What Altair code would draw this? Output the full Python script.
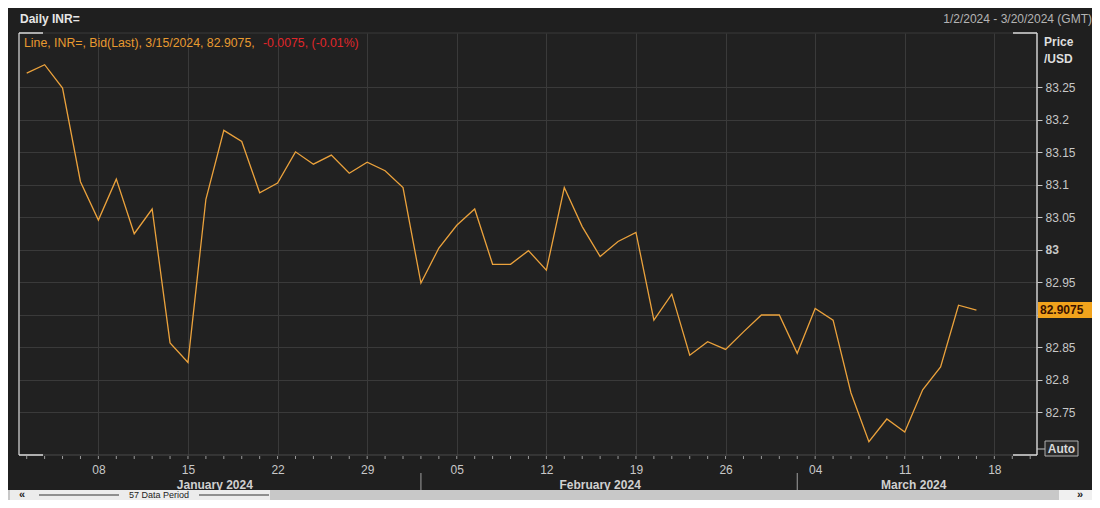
import altair as alt
import pandas as pd

# ---------------- data ----------------
dates = [
    "2024-01-02", "2024-01-03", "2024-01-04", "2024-01-05",
    "2024-01-08", "2024-01-09", "2024-01-10", "2024-01-11", "2024-01-12",
    "2024-01-15", "2024-01-16", "2024-01-17", "2024-01-18", "2024-01-19",
    "2024-01-22", "2024-01-23", "2024-01-24", "2024-01-25", "2024-01-26",
    "2024-01-29", "2024-01-30", "2024-01-31",
    "2024-02-01", "2024-02-02",
    "2024-02-05", "2024-02-06", "2024-02-07", "2024-02-08", "2024-02-09",
    "2024-02-12", "2024-02-13", "2024-02-14", "2024-02-15", "2024-02-16",
    "2024-02-19", "2024-02-20", "2024-02-21", "2024-02-22", "2024-02-23",
    "2024-02-26", "2024-02-27", "2024-02-28", "2024-02-29",
    "2024-03-01",
    "2024-03-04", "2024-03-05", "2024-03-06", "2024-03-07", "2024-03-08",
    "2024-03-11", "2024-03-12", "2024-03-13", "2024-03-14", "2024-03-15",
]
values = [
    83.272, 83.285, 83.249, 83.105,
    83.046, 83.109, 83.025, 83.063, 82.857,
    82.827, 83.078, 83.184, 83.167, 83.088,
    83.103, 83.151, 83.132, 83.146, 83.118,
    83.135, 83.122, 83.096,
    82.949, 83.003,
    83.038, 83.063, 82.978, 82.978, 82.999,
    82.969, 83.096, 83.036, 82.990, 83.013,
    83.027, 82.892, 82.932, 82.838, 82.859,
    82.847, 82.874, 82.900, 82.900,
    82.841,
    82.910, 82.892, 82.780, 82.705, 82.740,
    82.720, 82.785, 82.820, 82.915, 82.9075,
]
future_dates = ["2024-03-18", "2024-03-19", "2024-03-20"]

x_tick_idx = [4, 9, 14, 19, 24, 29, 34, 39, 44, 49, 54]
x_tick_labels = ["08", "15", "22", "29", "05", "12", "19", "26", "04", "11", "18"]
y_ticks = [82.75, 82.8, 82.85, 82.9, 82.95, 83.0, 83.05, 83.1, 83.15, 83.2, 83.25]
month_names = {1: "January 2024", 2: "February 2024", 3: "March 2024"}

header_title = "Daily INR="
header_range = "1/2/2024 - 3/20/2024 (GMT)"
legend_main = "Line, INR=, Bid(Last), 3/15/2024, 82.9075,"
legend_change = "-0.0075, (-0.01%)"
last_label = "82.9075"
period_label = "57 Data Period"

# ---------------- tables ----------------
df = pd.DataFrame({"date": dates, "value": values})
df["idx"] = range(len(df))

all_dates = pd.to_datetime(dates + future_dates)
periods = pd.DataFrame({"idx": range(len(all_dates)), "month": all_dates.month})
months = periods.groupby("month")["idx"].agg(["min", "max"]).reset_index()
months["center"] = (months["min"] + months["max"]) / 2
months["name"] = months["month"].map(month_names)
seps = months[months["min"] > 0]

last = df.tail(1).copy()
last["label"] = last_label

FONT = "Liberation Sans"
W, H = 1018, 422
XDOM = [-0.43, 56.38]
YDOM = [82.6846, 83.3338]

x_expr = "[" + ",".join("'%s'" % s for s in x_tick_labels) + "][indexof([" + \
    ",".join(str(i) for i in x_tick_idx) + "], datum.value)]"
# the last-price tag covers its neighbouring tick label
y_expr = "abs(datum.value - %s) < 0.02 ? '' : format(datum.value, '.4~g')" % last_label

xscale = alt.Scale(domain=XDOM, nice=False, zero=False)
yscale = alt.Scale(domain=YDOM, nice=False, zero=False)

line = alt.Chart(df).mark_line(color="#eba23c", strokeWidth=1.3).encode(
    x=alt.X("idx:Q", scale=xscale, title=None,
            axis=alt.Axis(values=x_tick_idx, labelExpr=x_expr, grid=True,
                          gridColor="#3a3a3a", ticks=False, domain=False,
                          labelColor="#c8c8c8", labelFontSize=12, labelFont=FONT,
                          labelPadding=9, labelFlush=False)),
    y=alt.Y("value:Q", scale=yscale, title=None,
            axis=alt.Axis(orient="right", values=y_ticks, labelExpr=y_expr,
                          grid=True, gridColor="#3a3a3a", domain=False,
                          tickColor="#c8c8c8", tickSize=5, labelPadding=3,
                          labelColor="#c8c8c8", labelFontSize=12, labelFont=FONT,
                          labelFontWeight={"expr": "datum.value == 83 ? 'bold' : 'normal'"})),
)

minor = alt.Chart(periods).mark_rule(color="#9a9a9a", strokeWidth=1).encode(
    x=alt.X("idx:Q", scale=xscale), y=alt.value(H + 1), y2=alt.value(H + 4))


def rule(x1, x2, y1, y2, color, sw=1.0):
    return alt.Chart(pd.DataFrame({"a": [0]})).mark_rule(color=color, strokeWidth=sw).encode(
        x=alt.value(x1), x2=alt.value(x2), y=alt.value(y1), y2=alt.value(y2))


def rect(x1, x2, y1, y2, fill, stroke=None):
    kw = {"fill": fill}
    if stroke:
        kw["stroke"] = stroke
        kw["strokeWidth"] = 1
    return alt.Chart(pd.DataFrame({"a": [0]})).mark_rect(**kw).encode(
        x=alt.value(x1), x2=alt.value(x2), y=alt.value(y1), y2=alt.value(y2))


def txt(s, x, y, color, size=12, weight="normal", align="left"):
    return alt.Chart(pd.DataFrame({"t": [s]})).mark_text(
        color=color, fontSize=size, fontWeight=weight, align=align,
        baseline="middle", font=FONT).encode(
        x=alt.value(x), y=alt.value(y), text="t:N")


frame = [
    rule(0, W, H, H, "#4a4a4a"),
    rule(0, W, 0, 0, "#3a3a3a"),
    rule(0, 0, 0, H, "#b8b8b8", 1.5),
    rule(W, W, 0, H, "#d0d0d0", 1.5),
    rule(0, 24, 0, 0, "#d8d8d8", 1.5),
    rule(W - 24, W, 0, 0, "#d8d8d8", 1.5),
    rule(0, 24, H, H, "#d8d8d8", 1.5),
    rule(W - 24, W, H, H, "#d8d8d8", 1.5),
]

month_text = alt.Chart(months).mark_text(
    color="#d0d0d0", fontSize=12, fontWeight="bold", font=FONT, baseline="middle").encode(
    x=alt.X("center:Q", scale=xscale), y=alt.value(452), text="name:N")
month_sep = alt.Chart(seps).mark_rule(color="#a0a0a0").encode(
    x=alt.X("min:Q", scale=xscale), y=alt.value(440), y2=alt.value(458))

price_box = alt.Chart(last).mark_rule(color="#f2a31c", strokeWidth=16, strokeCap="butt").encode(
    x=alt.value(W + 1), x2=alt.value(W + 56), y=alt.Y("value:Q", scale=yscale))
price_txt = alt.Chart(last).mark_text(
    color="#3a1200", fontSize=12, fontWeight="bold", font=FONT, align="left",
    baseline="middle").encode(
    x=alt.value(W + 3), y=alt.Y("value:Q", scale=yscale), text="label:N")

scroll = [
    rect(-11, 1073, 457, 467, "#c8c8c8"),
    rect(-9, 251, 457, 467, "#ececec"),
    rect(1040, 1073, 457, 467, "#f0f0f0"),
    rule(20, 100, 462, 462, "#333333"),
    rule(180, 250, 462, 462, "#333333"),
    txt(period_label, 140, 462, "#222222", 9, "normal", "center"),
    txt("«", 0, 461.5, "#222222", 11, "bold"),
    txt("»", 1058, 461.5, "#222222", 11, "bold"),
]

annotations = [
    txt(header_title, 1, -14, "#e6e6e6", 12, "bold"),
    txt(header_range, 1073, -14, "#b4b4b4", 12, "normal", "right"),
    txt(legend_main, 5, 10, "#e89a30", 12.3),
    txt(legend_change, 244, 10, "#e0262a", 12.3),
    txt("Price", 1025, 9, "#dedede", 12, "bold"),
    txt("/USD", 1025, 26, "#dedede", 12, "bold"),
    rule(W, W + 8, 416, 416, "#c8c8c8"),
    rect(1026, 1059, 408, 423, "#2a2a2a", "#b0b0b0"),
    txt("Auto", 1042.5, 416, "#d8d8d8", 12, "bold", "center"),
]

chart = alt.layer(
    line, minor, *frame, month_sep, month_text, price_box, price_txt,
    *scroll, *annotations
).properties(
    width=W, height=H,
    autosize=alt.AutoSizeParams(type="none"),
    padding={"left": 11, "top": 25, "right": 55, "bottom": 45},
    background="#1f1f1f",
).configure_view(fill="#212121", stroke=None)

chart.save("out.html", embed_options={"renderer": "svg", "actions": False})
